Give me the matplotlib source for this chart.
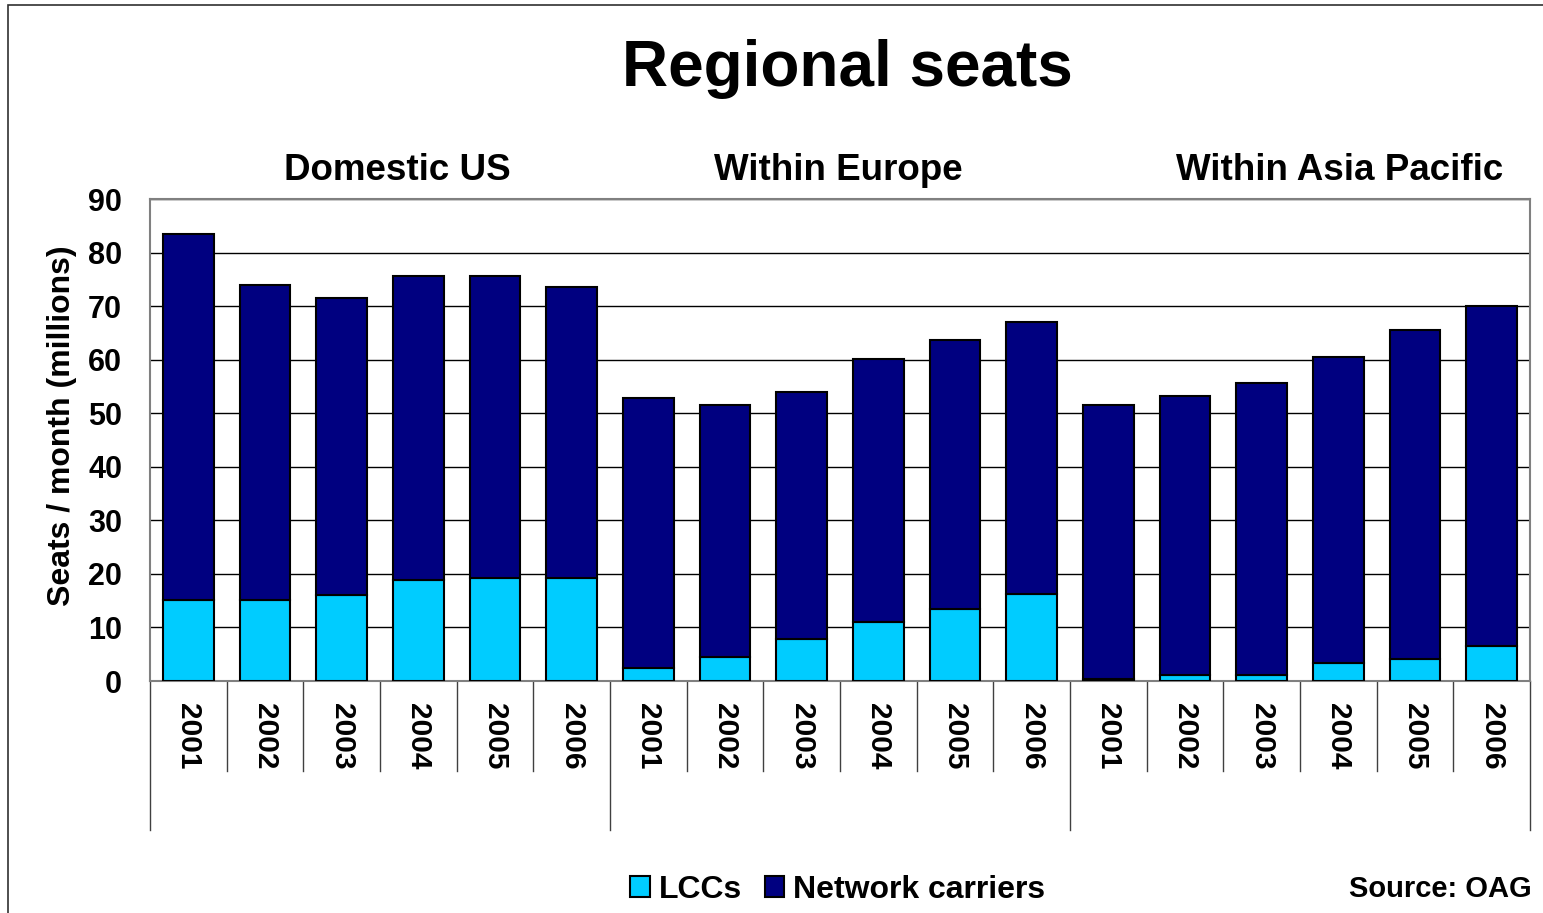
import numpy as np
import matplotlib
matplotlib.use("Agg")
import matplotlib.pyplot as plt
import matplotlib.patches as mpatches
import matplotlib.transforms as mtransforms

plt.rcParams['font.family'] = ['Liberation Sans', 'DejaVu Sans']
plt.rcParams['font.weight'] = 'bold'

# data (millions of seats per month)
regions = ['Domestic US', 'Within Europe', 'Within Asia Pacific']
years = ['2001', '2002', '2003', '2004', '2005', '2006']
lccs = [15.1, 15.1, 16.1, 18.9, 19.2, 19.2,
        2.4, 4.5, 7.8, 11.0, 13.4, 16.2,
        0.4, 1.1, 1.1, 3.4, 4.1, 6.5]
totals = [83.5, 73.9, 71.5, 75.6, 75.6, 73.6,
          52.8, 51.5, 54.0, 60.1, 63.7, 67.0,
          51.5, 53.2, 55.6, 60.5, 65.5, 70.0]
network = [t - l for t, l in zip(totals, lccs)]

LCC_COL = '#00CCFF'
NET_COL = '#000080'

W, H = 1543, 913
fig = plt.figure(figsize=(W / 100, H / 100), dpi=100)
ax = fig.add_axes([150 / W, 1 - 681 / H, 1380 / W, 482 / H])

x = np.arange(len(lccs))
ax.bar(x, lccs, width=0.665, color=LCC_COL, edgecolor='black', linewidth=1.5,
       label='LCCs', zorder=3)
ax.bar(x, network, bottom=lccs, width=0.665, color=NET_COL, edgecolor='black',
       linewidth=1.5, label='Network carriers', zorder=3)

ax.set_xlim(-0.5, len(lccs) - 0.5)
ax.set_ylim(0, 90)
ax.set_yticks(range(0, 91, 10))
ax.tick_params(axis='y', labelsize=22, length=0, pad=20)
for lab in ax.get_yticklabels():
    lab.set_fontweight('bold')
ax.yaxis.grid(True, color='black', linewidth=1.0, zorder=0)
ax.set_axisbelow(True)
for s in ax.spines.values():
    s.set_color('#808080')
    s.set_linewidth(1.5)

ax.set_xticks(x)
ax.set_xticklabels(years * len(regions), rotation=270, fontsize=21.5,
                   fontweight='bold', va='top', ha='center')
ax.tick_params(axis='x', length=0, pad=16)

ax.set_ylabel('Seats / month (millions)', fontsize=23, fontweight='bold',
              va='center')
ax.yaxis.set_label_coords((62 - 150) / 1380, (681 - 426) / 482)

# category separators below the axis
trans = mtransforms.blended_transform_factory(ax.transData, ax.transAxes)
n = len(years)
for i in range(len(lccs) + 1):
    bx = i - 0.5
    depth = -149 / 482 if i % n == 0 else -90 / 482
    ax.plot([bx, bx], [0, depth], transform=trans, color='#404040',
            linewidth=1.0, clip_on=False)

# region headers
hdr_x = [397, 838, 1340]
for name, hx in zip(regions, hdr_x):
    fig.text(hx / W, 1 - 170 / H, name, ha='center', va='center',
             fontsize=26.5, fontweight='bold')

fig.text(847 / W, 1 - 69 / H, 'Regional seats', ha='center', va='center',
         fontsize=46, fontweight='bold')

leg = fig.legend(loc='center', bbox_to_anchor=(838 / W, 1 - 890 / H), ncol=2,
                 frameon=False, prop={'size': 23, 'weight': 'bold'},
                 handlelength=0.6, handleheight=0.65, handletextpad=0.3,
                 columnspacing=0.7)

fig.text(1532 / W, 1 - 889 / H, 'Source: OAG', ha='right', va='center',
         fontsize=21, fontweight='bold')

# outer frame of the slide
fig.add_artist(mpatches.Rectangle((8 / W, -0.1), 1.2, 1.1 - 5 / H,
                                  transform=fig.transFigure, fill=False,
                                  edgecolor='#303030', linewidth=1.2))

fig.savefig('out.png', dpi=100, facecolor='white')
